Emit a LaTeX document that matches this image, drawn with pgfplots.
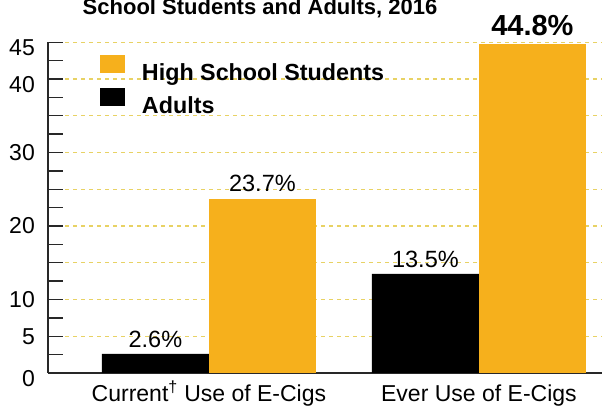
\documentclass[border=0pt]{standalone}
\usepackage{fontspec}
\setmainfont{Liberation Sans}
\usepackage{pgfplots}
\pgfplotsset{compat=1.18}
\definecolor{hsorange}{RGB}{246,176,28}
\definecolor{gridyel}{RGB}{232,210,100}
\definecolor{axgray}{RGB}{40,40,40}
\begin{document}
\begin{tikzpicture}
\begin{axis}[
  at={(48pt,36pt)}, anchor=south west,
  x=270pt, y=7.35pt,
  xmin=-0.596, xmax=1.47, ymin=0, ymax=45,
  axis x line=bottom, axis y line=left,
  axis line style={-, line width=1.4pt, color=axgray},
  ybar, bar width=107pt,
  xtick={0,1},
  xticklabels={Current\textsuperscript{\textdagger} Use of E-Cigs, Ever Use of E-Cigs},
  x tick style={draw=none},
  xticklabel style={font=\fontsize{23}{27}\selectfont, anchor=base, inner sep=0pt, yshift=-29pt},
  ytick={0,5,...,45},
  yticklabels={\raisebox{-6pt}{0},5,10,,20,,30,,\raisebox{-6pt}{40},\raisebox{-5pt}{45}},
  minor ytick={2.5,7.5,...,42.5},
  tick align=inside, major tick length=15pt, minor tick length=15pt,
  y tick style={line width=1.4pt, color=axgray},
  yticklabel style={font=\fontsize{23}{27}\selectfont, anchor=base east, inner sep=0pt, xshift=-13pt, yshift=-8pt},
  /pgf/number format/assume math mode=true,
  clip=false,
  legend cell align=left,
  legend style={at={(0.0932,0.96)}, anchor=north west, draw=none, fill=none,
    inner sep=0pt, outer sep=0pt, row sep=6pt,
    font=\bfseries\fontsize{23.3}{28}\selectfont,
    nodes={inner sep=0pt}},
]
\pgfplotsinvokeforeach{5,10,...,45}{
  \draw[gridyel, line width=1.3pt, dash pattern=on 4pt off 4pt] (axis cs:-0.533,#1) -- (axis cs:1.47,#1);
}
\addplot[fill=hsorange, draw=none, bar shift=53.5pt,
  legend image code/.code={\fill[hsorange] (0pt,-0.5pt) rectangle (25pt,17.5pt); \path (42pt,0pt);},
  nodes near coords={\pgfmathprintnumber[fixed,fixed zerofill,precision=1]{\pgfplotspointmeta}\%},
  every node near coord/.append style={font=\fontsize{23.5}{28}\selectfont, anchor=base, inner sep=0pt, yshift=7pt, color=black}]
  coordinates {(0,23.7)};
\addlegendentry{High School Students}
\addplot[fill=hsorange, draw=none, bar shift=53.5pt, forget plot,
  nodes near coords={\pgfmathprintnumber[fixed,fixed zerofill,precision=1]{\pgfplotspointmeta}\%},
  every node near coord/.append style={font=\bfseries\fontsize{29}{34}\selectfont, anchor=base, inner sep=0pt, yshift=8pt, color=black}]
  coordinates {(1,44.8)};
\addplot[fill=black, draw=none, bar shift=-53.5pt,
  legend image code/.code={\fill[black] (0pt,-0.5pt) rectangle (25pt,17.5pt); \path (42pt,0pt);},
  nodes near coords={\pgfmathprintnumber[fixed,fixed zerofill,precision=1]{\pgfplotspointmeta}\%},
  every node near coord/.append style={font=\fontsize{23.5}{28}\selectfont, anchor=base, inner sep=0pt, yshift=6pt, color=black}]
  coordinates {(0,2.6) (1,13.5)};
\addlegendentry{Adults}
\end{axis}
\node[anchor=base, font=\bfseries\fontsize{22}{26}\selectfont] at (260pt,394pt) {School Students and Adults, 2016};
\pgfresetboundingbox
\useasboundingbox (0,0) rectangle (602pt,409pt);
\end{tikzpicture}
\end{document}
